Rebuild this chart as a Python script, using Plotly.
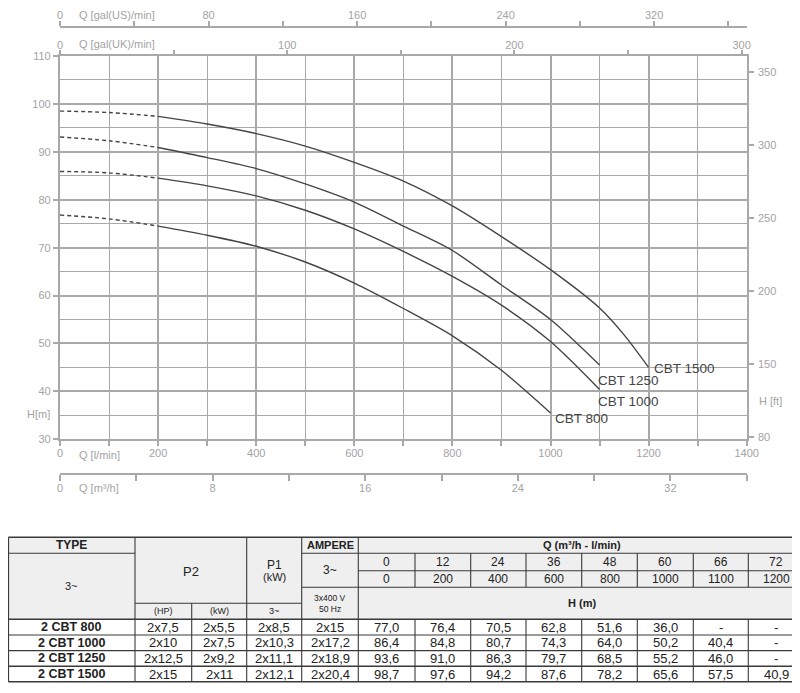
import plotly.graph_objects as go

# ---------------- data ----------------
models = ["CBT 800", "CBT 1000", "CBT 1250", "CBT 1500"]
q_800 = [0, 100, 200, 300, 400, 500, 600, 700, 800, 900, 1000]
h_800 = [76.8, 76.0, 74.5, 72.6, 70.3, 67.0, 62.6, 57.3, 51.6, 44.4, 35.5]
q_1000 = [0, 100, 200, 300, 400, 500, 600, 700, 800, 900, 1000, 1100]
h_1000 = [85.9, 85.6, 84.5, 82.9, 80.8, 77.8, 73.9, 69.2, 64.0, 58.0, 50.4, 40.4]
q_1250 = [0, 100, 200, 300, 400, 500, 600, 700, 800, 900, 1000, 1100]
h_1250 = [93.1, 92.3, 90.9, 88.8, 86.5, 83.3, 79.5, 74.5, 69.4, 62.2, 55.0, 45.5]
q_1500 = [0, 100, 200, 300, 400, 500, 600, 700, 800, 900, 1000, 1100, 1150, 1200]
h_1500 = [98.5, 98.2, 97.4, 95.8, 93.8, 91.2, 87.8, 83.9, 78.7, 72.3, 65.4, 57.4, 51.8, 45.0]
curve_q = [q_800, q_1000, q_1250, q_1500]
curve_h = [h_800, h_1000, h_1250, h_1500]
dash_until = 200  # l/min, curves drawn dashed below this flow

# curve label anchor points (l/min, m)
label_q = [1063, 1160, 1160, 1274]
label_h = [34.4, 37.8, 42.2, 44.7]

# axis tick labels
left_ticks = list(range(30, 111, 10))
ft_tickvals = [100, 150, 200, 250, 300, 350]
ft_ticktext = ["80", "150", "200", "250", "300", "350"]
us_ticks = list(range(0, 361, 40))
us_labels = ["0", "", "80", "", "160", "", "240", "", "320", ""]
uk_ticks = list(range(0, 301, 50))
uk_labels = ["0", "", "100", "", "200", "", "300"]
bot_ticks = list(range(0, 37, 4))
bot_labels = ["0", "", "8", "", "16", "", "24", "", "32", ""]

# table data
tbl_types = ["2 CBT 800", "2 CBT 1000", "2 CBT 1250", "2 CBT 1500"]
tbl_hp = ["2x7,5", "2x10", "2x12,5", "2x15"]
tbl_kw = ["2x5,5", "2x7,5", "2x9,2", "2x11"]
tbl_p1 = ["2x8,5", "2x10,3", "2x11,1", "2x12,1"]
tbl_amp = ["2x15", "2x17,2", "2x18,9", "2x20,4"]
tbl_q_m3h = ["0", "12", "24", "36", "48", "60", "66", "72"]
tbl_q_lmin = ["0", "200", "400", "600", "800", "1000", "1100", "1200"]
tbl_h = [
    ["77,0", "76,4", "70,5", "62,8", "51,6", "36,0", "-", "-"],
    ["86,4", "84,8", "80,7", "74,3", "64,0", "50,2", "40,4", "-"],
    ["93,6", "91,0", "86,3", "79,7", "68,5", "55,2", "46,0", "-"],
    ["98,7", "97,6", "94,2", "87,6", "78,2", "65,6", "57,5", "40,9"],
]

# ---------------- geometry / style ----------------
PAGE_W, PAGE_H = 800, 693
OFF = 8  # default page body margin
W, H = PAGE_W - 2 * OFF, PAGE_H - 2 * OFF
PX0, PX1 = 60, 746.7
PY0, PY1 = 56, 439.3
Q_MAX = 1400
H_MIN, H_MAX = 30, 110
M_TO_FT = 3.28084
L_PER_USGAL = 3.78541
L_PER_UKGAL = 4.632
BOT_MAX = 36

GRID = "#a9a9a9"
LBL = "#a3a3a3"
CURVE = "#454545"
FONT = "Liberation Sans, Arial, sans-serif"


def fx(px):
    return (px - OFF) / W


def fy(py):
    return 1 - (py - OFF) / H


fig = go.Figure()

for name, qs, hs in zip(models, curve_q, curve_h):
    qd = [q for q in qs if q <= dash_until]
    hd = [h for q, h in zip(qs, hs) if q <= dash_until]
    qsld = [q for q in qs if q >= dash_until]
    hsld = [h for q, h in zip(qs, hs) if q >= dash_until]
    fig.add_trace(go.Scatter(x=qd, y=hd, mode="lines", line=dict(color=CURVE, width=1.4, dash="4px,3px", shape="spline"),
                             showlegend=False, hoverinfo="skip"))
    fig.add_trace(go.Scatter(x=qsld, y=hsld, mode="lines", name=name,
                             line=dict(color=CURVE, width=1.4, shape="spline", smoothing=0.8), showlegend=False))

# dummy traces so the extra axes exist
for xa, ya in [("x2", "y"), ("x3", "y"), ("x4", "y"), ("x", "y2")]:
    fig.add_trace(go.Scatter(x=[None], y=[None], xaxis=xa, yaxis=ya, showlegend=False, hoverinfo="skip"))

tickfont = dict(family=FONT, size=11, color=LBL)

fig.update_layout(
    width=W, height=H, margin=dict(l=0, r=0, t=0, b=0, autoexpand=False),
    paper_bgcolor="white", plot_bgcolor="white", showlegend=False,
    font=dict(family=FONT),
    xaxis=dict(domain=[fx(PX0), fx(PX1)], range=[0, Q_MAX], tickvals=list(range(0, Q_MAX + 1, 200)),
               showgrid=True, gridcolor=GRID, gridwidth=1.7, showline=True, linecolor=GRID, linewidth=2.2,
               mirror=True, ticks="outside", ticklen=5, tickwidth=2, tickcolor=GRID, tickfont=tickfont,
               zeroline=False, automargin=False, ticklabelstandoff=-3,
               minor=dict(tickvals=list(range(100, Q_MAX, 200)), ticks="outside", ticklen=5, tickwidth=2,
                          tickcolor=GRID, showgrid=True, gridcolor=GRID, gridwidth=1.1)),
    yaxis=dict(domain=[fy(PY1), fy(PY0)], range=[H_MIN, H_MAX], tickvals=left_ticks,
               showgrid=True, gridcolor=GRID, gridwidth=1.7, showline=True, linecolor=GRID, linewidth=2.2,
               mirror=True, ticks="outside", ticklen=5, tickwidth=2, tickcolor=GRID, tickfont=tickfont,
               zeroline=False, automargin=False,
               minor=dict(tickvals=list(range(35, H_MAX, 10)), ticks="", showgrid=True, gridcolor=GRID,
                          gridwidth=1.1)),
    yaxis2=dict(overlaying="y", side="right", anchor="x", range=[H_MIN * M_TO_FT, H_MAX * M_TO_FT],
                tickvals=ft_tickvals, ticktext=ft_ticktext, ticks="outside", ticklen=6, tickwidth=2,
                tickcolor=GRID, tickfont=tickfont, showgrid=False, showline=False, zeroline=False,
                automargin=False, ticklabelstandoff=2),
    xaxis2=dict(overlaying="x", anchor="free", position=fy(26.7), side="top",
                range=[0, Q_MAX / L_PER_USGAL], tickvals=us_ticks, ticktext=us_labels,
                ticks="outside", ticklen=5, tickwidth=2, tickcolor=GRID, tickfont=tickfont,
                showline=True, linecolor=GRID, linewidth=2.2, showgrid=False, zeroline=False,
                automargin=False, ticklabelstandoff=-3),
    xaxis3=dict(overlaying="x", anchor="y", side="top",
                range=[0, Q_MAX / L_PER_UKGAL], tickvals=uk_ticks, ticktext=uk_labels,
                ticks="outside", ticklen=5, tickwidth=2, tickcolor=GRID, tickfont=tickfont,
                showline=False, showgrid=False, zeroline=False, automargin=False, ticklabelstandoff=-3),
    xaxis4=dict(overlaying="x", anchor="free", position=fy(474), side="bottom",
                range=[0, BOT_MAX], tickvals=bot_ticks, ticktext=bot_labels,
                ticks="outside", ticklen=6, tickwidth=2, tickcolor=GRID, tickfont=tickfont,
                showline=True, linecolor=GRID, linewidth=2.2, showgrid=False, zeroline=False,
                automargin=False, ticklabelstandoff=-2),
)

annotations = []


def ptext(x, y, text, size=11, color=LBL, bold=False, xanchor="left"):
    t = f"<b>{text}</b>" if bold else text
    annotations.append(dict(x=fx(x), y=fy(y), xref="paper", yref="paper", text=t, showarrow=False,
                            xanchor=xanchor, yanchor="middle",
                            font=dict(family=FONT, size=size, color=color)))


ptext(77, 15, "Q [gal(US)/min]")
ptext(77, 44, "Q [gal(UK)/min]")
ptext(77, 455, "Q [l/min]")
ptext(77, 488, "Q [m³/h]")
ptext(52, 414, "H[m]", xanchor="right")
ptext(757, 401, "H [ft]")

for name, lq, lh in zip(models, label_q, label_h):
    annotations.append(dict(x=lq, y=lh, xref="x", yref="y", text=name, showarrow=False,
                            xanchor="center", yanchor="middle",
                            font=dict(family=FONT, size=13.5, color=CURVE)))

# ---------------- table ----------------
cols = [8.4, 135, 191.7, 246.7, 301.7, 358.3, 415, 470.7, 526, 581.7, 637.3, 693.3, 748.3, 810]
r_top, r1, r2, r3, r4, r5 = 537.3, 553.3, 570.7, 587.3, 603.3, 619.3
drows = [619.3, 635.0, 650.6, 666.2, 681.8]
LINE = "#3a3a3a"
TXT = "#222222"
shapes = []
shapes.append(dict(type="rect", xref="paper", yref="paper", x0=fx(cols[0]), x1=fx(cols[-1]),
                   y0=fy(r5), y1=fy(r_top), fillcolor="#efefef", line=dict(width=0), layer="below"))


def hline(y, x0, x1, w=1.1):
    shapes.append(dict(type="line", xref="paper", yref="paper", x0=fx(x0), x1=fx(x1), y0=fy(y), y1=fy(y),
                       line=dict(color=LINE, width=w)))


def vline(x, y0, y1, w=1.1):
    shapes.append(dict(type="line", xref="paper", yref="paper", x0=fx(x), x1=fx(x), y0=fy(y0), y1=fy(y1),
                       line=dict(color=LINE, width=w)))


xl, xr = cols[0], cols[-1]
hline(r_top, xl, xr, 1.4)
hline(drows[-1], xl, xr, 1.4)
hline(r1, xl, cols[1])
hline(r1, cols[4], xr)
hline(r2, cols[5], xr)
hline(r3, cols[4], xr)
hline(r4, cols[1], cols[4])
hline(r5, xl, xr, 1.4)
for i, y in enumerate(drows[1:-1]):
    hline(y, xl, xr, 1.6 if i == 2 else 1.1)
vline(xl, r_top, drows[-1], 1.4)
vline(cols[1], r_top, drows[-1])
vline(cols[2], r4, drows[-1])
vline(cols[3], r_top, drows[-1])
vline(cols[4], r_top, drows[-1])
vline(cols[5], r_top, drows[-1])
for c in cols[6:-1]:
    vline(c, r1, r3)
    vline(c, r5, drows[-1])


def mid(a, b):
    return (a + b) / 2


ptext(mid(cols[0], cols[1]), mid(r_top, r1), "TYPE", 12, TXT, True, "center")
ptext(mid(cols[0], cols[1]), mid(r1, r5), "3~", 11, TXT, False, "center")
ptext(mid(cols[1], cols[3]), 571.7, "P2", 13, TXT, False, "center")
ptext(mid(cols[1], cols[2]), mid(r4, r5), "(HP)", 9, TXT, False, "center")
ptext(mid(cols[2], cols[3]), mid(r4, r5), "(kW)", 9, TXT, False, "center")
ptext(mid(cols[3], cols[4]), 565, "P1", 12, TXT, False, "center")
ptext(mid(cols[3], cols[4]), 577, "(kW)", 11, TXT, False, "center")
ptext(mid(cols[3], cols[4]), mid(r4, r5), "3~", 9, TXT, False, "center")
ptext(mid(cols[4], cols[5]), mid(r_top, r1), "AMPERE", 11, TXT, True, "center")
ptext(mid(cols[4], cols[5]), mid(r1, r3), "3~", 12, TXT, False, "center")
ptext(mid(cols[4], cols[5]), 598, "3x400 V", 8.5, TXT, False, "center")
ptext(mid(cols[4], cols[5]), 609, "50 Hz", 8.5, TXT, False, "center")
ptext(581.5, mid(r_top, r1), "Q (m³/h - l/min)", 11, TXT, True, "center")
ptext(581.5, mid(r3, r5), "H (m)", 11, TXT, True, "center")
for j in range(8):
    cx = mid(cols[5 + j], cols[6 + j]) if j < 7 else cols[12] + 27.8
    ptext(cx, mid(r1, r2), tbl_q_m3h[j], 12, TXT, False, "center")
    ptext(cx, mid(r2, r3), tbl_q_lmin[j], 12, TXT, False, "center")
for i in range(4):
    cy = mid(drows[i], drows[i + 1])
    ptext(mid(7.3, cols[1]), cy, tbl_types[i], 12.5, TXT, True, "center")
    ptext(mid(cols[1], cols[2]), cy, tbl_hp[i], 13, TXT, False, "center")
    ptext(mid(cols[2], cols[3]), cy, tbl_kw[i], 13, TXT, False, "center")
    ptext(mid(cols[3], cols[4]), cy, tbl_p1[i], 13, TXT, False, "center")
    ptext(mid(cols[4], cols[5]), cy, tbl_amp[i], 13, TXT, False, "center")
    for j in range(8):
        cx = mid(cols[5 + j], cols[6 + j]) if j < 7 else cols[12] + 27.8
        ptext(cx, cy, tbl_h[i][j], 13, TXT, False, "center")

fig.update_layout(annotations=annotations, shapes=shapes)
fig.write_html("out.html", config={"displayModeBar": False})
